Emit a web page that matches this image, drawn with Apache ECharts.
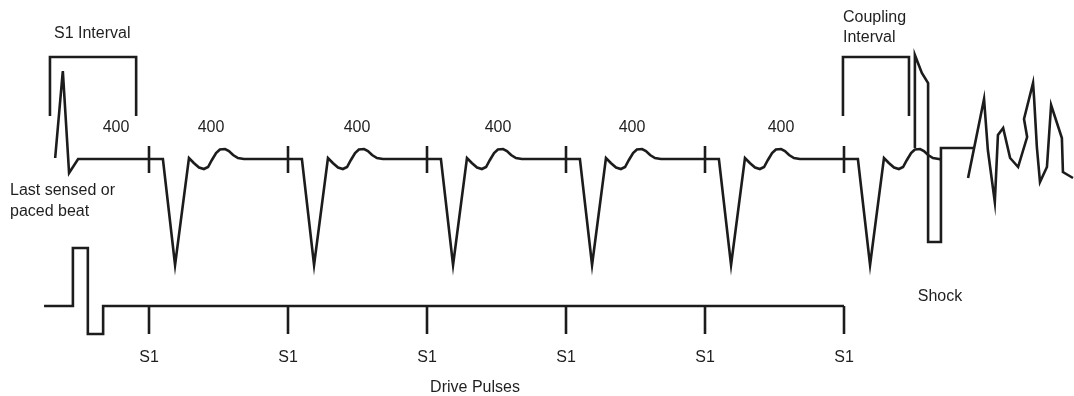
<!DOCTYPE html>
<html>
<head>
<meta charset="utf-8">
<script src="https://cdn.jsdelivr.net/npm/echarts@6/dist/echarts.min.js"></script>
<style>
  html, body { margin: 0; padding: 0; background: #ffffff; }
  #chart { width: 1074px; height: 396px; }
</style>
</head>
<body>
<div id="chart"></div>
<script>
// ---- Data (time in ms, amplitude in arbitrary mV-like units) ----
// Drive pulse (S1) times, 400 ms apart
const S1_TIMES = [0, 400, 800, 1200, 1600, 2000];
const S1_LABELS = ['S1', 'S1', 'S1', 'S1', 'S1', 'S1'];

// Last sensed / paced beat (before first S1)
const SENSED_T = [-270, -248, -230, -204];
const SENSED_A = [0.01, 0.88, -0.14, 0];

// Paced beat shape, offsets from its S1 pulse
const BEAT_OFFSETS = [0, 40, 75, 115, 129, 144, 158, 170, 181, 193, 204, 219, 230, 242, 256, 273];
const BEAT_AMPS    = [0, 0, -1.06, 0.01, -0.04, -0.085, -0.10, -0.08, -0.01, 0.06, 0.095, 0.10, 0.08, 0.04, 0.01, 0];

// ECG tail end (meets shock)
const TAIL_T = [2279];
const TAIL_A = [-0.005];

// Shock waveform
const SHOCK_T = [2204, 2204, 2224, 2242, 2242, 2279, 2279, 2374];
const SHOCK_A = [0.11, 1.04, 0.86, 0.76, -0.83, -0.83, 0.11, 0.11];

// Induced fibrillation
const VF_T = [2357, 2403, 2414, 2434, 2443, 2458, 2478, 2501, 2527, 2518, 2544, 2547, 2555, 2564, 2584, 2596, 2627, 2630, 2659];
const VF_A = [-0.19, 0.60, 0.09, -0.43, 0.24, 0.31, 0.01, -0.08, 0.22, 0.40, 0.76, 0.61, 0.12, -0.23, -0.08, 0.54, 0.21, -0.13, -0.19];

// Interval brackets
const S1_BRACKET_T = [-285, -285, -37, -37];
const COUPLING_BRACKET_T = [1997, 1997, 2187, 2187];
const BRACKET_A = [0.43, 1.02, 1.02, 0.43];

// ECG tick marks (at S1 times)
const ECG_TICK_A = [0.13, -0.14];

// Pacing channel
const PULSE_T = [-302, -219, -219, -176, -176, -132, -132, 2000];
const PULSE_A = [0, 0, 0.58, 0.58, -0.28, -0.28, 0, 0];
const PULSE_TICK_A = [0, -0.28];
const S1_LABEL_A = -0.52;

// Interval value labels
const INTERVAL_LABELS = ['400', '400', '400', '400', '400', '400'];

// ---- Build ----
const zip = (t, a) => t.map((v, i) => [v, a[i]]);

const ecgData = zip(SENSED_T, SENSED_A);
S1_TIMES.forEach(s => {
  BEAT_OFFSETS.forEach((o, i) => ecgData.push([s + o, BEAT_AMPS[i]]));
});
zip(TAIL_T, TAIL_A).forEach(p => ecgData.push(p));

const INK = '#1c1c1c';
const LW = 2.6;
const FONT = "'Liberation Sans', Arial, Helvetica, sans-serif";
const FS = 16;
const TXT = '#1f1f1f';

function lineSeries(data, gridIdx) {
  return {
    type: 'line',
    xAxisIndex: gridIdx, yAxisIndex: gridIdx,
    data: data,
    showSymbol: false, symbol: 'none',
    clip: false, silent: true, animation: false,
    lineStyle: { color: INK, width: LW, join: 'miter', miterLimit: 12, cap: 'butt' }
  };
}

const series = [
  lineSeries(ecgData, 0),
  lineSeries(zip(SHOCK_T, SHOCK_A), 0),
  lineSeries(zip(VF_T, VF_A), 0),
  lineSeries(zip(S1_BRACKET_T, BRACKET_A), 0),
  lineSeries(zip(COUPLING_BRACKET_T, BRACKET_A), 0),
  lineSeries(zip(PULSE_T, PULSE_A), 1)
];
S1_TIMES.forEach(s => {
  series.push(lineSeries(ECG_TICK_A.map(a => [s, a]), 0));
  series.push(lineSeries(PULSE_TICK_A.map(a => [s, a]), 1));
});
series.push({
  type: 'scatter',
  xAxisIndex: 1, yAxisIndex: 1,
  symbolSize: 0,
  clip: false, silent: true, animation: false,
  itemStyle: { color: TXT, opacity: 1 },
  data: S1_TIMES.map((s, i) => ({ value: [s, S1_LABEL_A], name: S1_LABELS[i] })),
  label: {
    show: true, position: 'inside', formatter: p => p.name,
    color: TXT, fontSize: FS, fontFamily: FONT,
    textBorderWidth: 0, textBorderColor: 'transparent', opacity: 1
  }
});

// px per ms: 139 px per 400 ms; S1 #1 at px 149
const K = 400 / 139;
const X_MIN = -149 * K, X_MAX = (1074 - 149) * K;

function txt(text, x, y, align) {
  return {
    type: 'text', x: x, y: y, silent: true,
    style: { text: text, fill: TXT, fontSize: FS, fontFamily: FONT,
             align: align || 'center', verticalAlign: 'middle' }
  };
}
const labelX400 = [116, 211, 357, 498, 632, 781];
const graphics = [
  txt('S1 Interval', 54, 34, 'left'),
  txt('Last sensed or', 10, 191, 'left'),
  txt('paced beat', 10, 212, 'left'),
  txt('Coupling', 843, 18, 'left'),
  txt('Interval', 843, 38, 'left'),
  txt('Shock', 940, 297, 'center'),
  txt('Drive Pulses', 475, 388, 'center')
].concat(INTERVAL_LABELS.map((l, i) => txt(l, labelX400[i], 128, 'center')));

const chart = echarts.init(document.getElementById('chart'), null, { renderer: 'canvas' });
chart.setOption({
  animation: false,
  backgroundColor: '#ffffff',
  grid: [
    { left: 0, right: 0, top: 0, height: 300, containLabel: false, show: false },
    { left: 0, right: 0, top: 230, height: 130, containLabel: false, show: false }
  ],
  xAxis: [
    { type: 'value', gridIndex: 0, min: X_MIN, max: X_MAX, show: false },
    { type: 'value', gridIndex: 1, min: X_MIN, max: X_MAX, show: false }
  ],
  yAxis: [
    { type: 'value', gridIndex: 0, min: -1.41, max: 1.59, show: false },
    { type: 'value', gridIndex: 1, min: -0.54, max: 0.76, show: false }
  ],
  graphic: graphics,
  series: series
});
</script>
</body>
</html>
